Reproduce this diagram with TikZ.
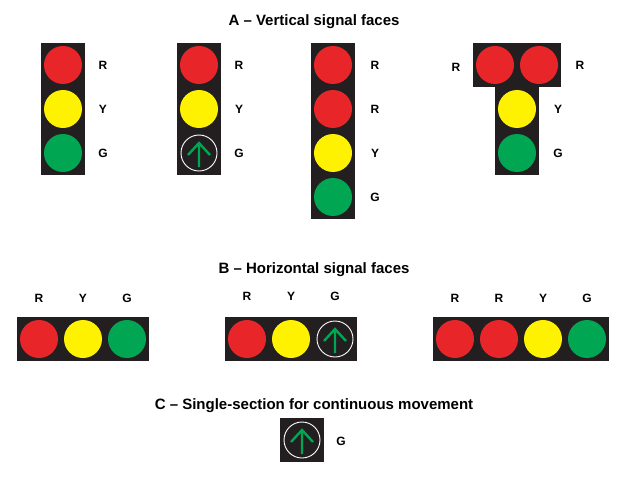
\documentclass[tikz,border=0pt]{standalone}
\usepackage{fontspec}
\setmainfont{Liberation Sans}
\definecolor{sr}{HTML}{E8262A}
\definecolor{sy}{HTML}{FFF200}
\definecolor{sg}{HTML}{00A651}
\definecolor{sbox}{HTML}{231F20}
\begin{document}
\begin{tikzpicture}[x=1pt,y=-1pt,
  lab/.style={font=\bfseries\fontsize{12}{14}\selectfont},
  ttl/.style={font=\bfseries\fontsize{15}{18}\selectfont}]
\useasboundingbox (0,0) rectangle (629,484);
\newcommand{\lamp}[4]{% name, x, y, color
  \fill[sbox] (#2-22,#3-22) rectangle (#2+22,#3+22);
  \node[circle,fill=#4,minimum size=38pt,inner sep=0pt] (#1) at (#2,#3) {};}
\newcommand{\arrowlamp}[3]{%
  \fill[sbox] (#2-22,#3-22) rectangle (#2+22,#3+22);
  \node[circle,draw=white,line width=0.9pt,minimum size=36pt,inner sep=0pt] (#1) at (#2,#3) {};
  \draw[sg,line width=2.4pt] (#2-11,#3+2) -- (#2,#3-10) -- (#2+11,#3+2) (#2,#3-10) -- (#2,#3+14);}
\node[ttl] (ta) at (314,22) {A – Vertical signal faces};
\lamp{a1}{63}{65}{sr}\lamp{a2}{63}{109}{sy}\lamp{a3}{63}{153}{sg}
\node[lab] (la1) at (103,65) {R};\node[lab] (la2) at (103,109) {Y};\node[lab] (la3) at (103,153) {G};
\lamp{b1}{199}{65}{sr}\lamp{b2}{199}{109}{sy}\arrowlamp{b3}{199}{153}
\node[lab] (lb1) at (239,65) {R};\node[lab] (lb2) at (239,109) {Y};\node[lab] (lb3) at (239,153) {G};
\lamp{c1}{333}{65}{sr}\lamp{c2}{333}{109}{sr}\lamp{c3}{333}{153}{sy}\lamp{c4}{333}{197}{sg}
\node[lab] (lc1) at (375,65) {R};\node[lab] (lc2) at (375,109) {R};\node[lab] (lc3) at (375,153) {Y};\node[lab] (lc4) at (375,197) {G};
\lamp{d1}{495}{65}{sr}\lamp{d2}{539}{65}{sr}\lamp{d3}{517}{109}{sy}\lamp{d4}{517}{153}{sg}
\node[lab] (ld1) at (456,67) {R};\node[lab] (ld2) at (580,65) {R};\node[lab] (ld3) at (558,109) {Y};\node[lab] (ld4) at (558,153) {G};
\node[ttl] (tb) at (314,270) {B – Horizontal signal faces};
\lamp{e1}{39}{339}{sr}\lamp{e2}{83}{339}{sy}\lamp{e3}{127}{339}{sg}
\node[lab] (le1) at (39,298) {R};\node[lab] (le2) at (83,298) {Y};\node[lab] (le3) at (127,298) {G};
\lamp{f1}{247}{339}{sr}\lamp{f2}{291}{339}{sy}\arrowlamp{f3}{335}{339}
\node[lab] (lf1) at (247,296) {R};\node[lab] (lf2) at (291,296) {Y};\node[lab] (lf3) at (335,296) {G};
\lamp{g1}{455}{339}{sr}\lamp{g2}{499}{339}{sr}\lamp{g3}{543}{339}{sy}\lamp{g4}{587}{339}{sg}
\node[lab] (lg1) at (455,298) {R};\node[lab] (lg2) at (499,298) {R};\node[lab] (lg3) at (543,298) {Y};\node[lab] (lg4) at (587,298) {G};
\node[ttl] (tc) at (314,406) {C – Single-section for continuous movement};
\arrowlamp{h1}{302}{440}
\node[lab] (lh1) at (341,441) {G};
\end{tikzpicture}
\end{document}
